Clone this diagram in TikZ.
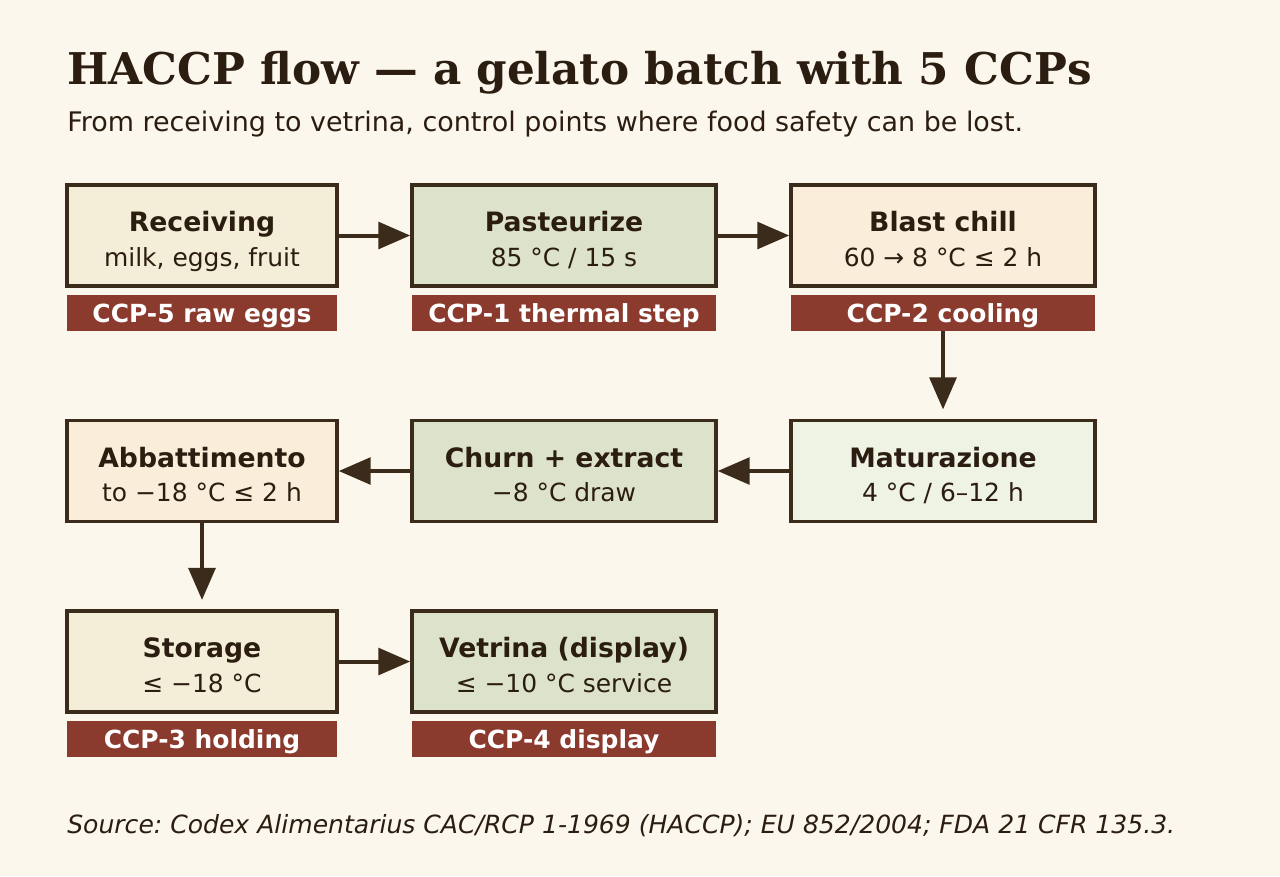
\documentclass[tikz,border=0pt]{standalone}
\usepackage{fontspec}
\setmainfont{DejaVu Sans}
\newfontfamily\titlefont{DejaVu Serif}
\usetikzlibrary{arrows.meta}
\definecolor{bg}{HTML}{FCF7EC}
\definecolor{ink}{HTML}{2B1D10}
\definecolor{edge}{HTML}{3B2B1A}
\definecolor{fillA}{HTML}{F4EDD8}
\definecolor{fillB}{HTML}{DDE3CB}
\definecolor{fillC}{HTML}{FAEEDA}
\definecolor{fillD}{HTML}{EFF3E3}
\definecolor{ccp}{HTML}{8B3A2E}
\newcommand\boxhd{\fontsize{20}{20}\bfseries\selectfont}
\frenchspacing
\begin{document}
\begin{tikzpicture}[x=0.75pt, y=-0.75pt,
        box/.style = {draw=edge, line width=2.6pt, minimum height=75.75pt, minimum width=#1*0.75pt,
            align=center, text=ink, inner sep=0pt, font=\fontsize{18.7}{26}\selectfont},
        tag/.style = {fill=ccp, minimum height=27pt, minimum width=#1*0.75pt, inner sep=0pt,
            text=white, font=\fontsize{18.7}{20}\bfseries\selectfont},
        txt/.style = {anchor=base west, inner sep=0pt, text=ink},
        arr/.style = {draw=edge, line width=3pt, -{Triangle[length=24pt, width=20pt]}},
    ]
    \fill[bg] (0,0) rectangle (1280,876);
    \node[txt, font=\titlefont\fontsize{32.8}{36}\bfseries\selectfont] (title) at (67,84) {HACCP flow — a gelato batch with 5 CCPs};
    \node[txt, font=\fontsize{20.2}{20}\selectfont] (sub) at (67,131) {From receiving to vetrina, control points where food safety can be lost.};
    \node[txt, font=\fontsize{18.8}{20}\itshape\selectfont] (src) at (67,833) {Source: Codex Alimentarius CAC/RCP 1-1969 (HACCP); EU 852/2004; FDA 21 CFR 135.3.};

    % row 1
    \node (rec) [box=270, fill=fillA] at (202,235.5) {};
    \node (pas) [box=304, fill=fillB] at (564,235.5) {};
    \node (bla) [box=304, fill=fillC] at (943,235.5) {};
    \node (t5) [tag=270] at (202,313) {};
    \node (t1) [tag=304] at (564,313) {};
    \node (t2) [tag=304] at (943,313) {};

    % row 2
    \node (abb) [box=270, fill=fillC] at (202,471) {};
    \node (chu) [box=304, fill=fillB] at (564,471) {};
    \node (mat) [box=304, fill=fillD] at (943,471) {};

    % row 3
    \node (sto) [box=270, fill=fillA] at (202,661.5) {};
    \node (vet) [box=304, fill=fillB] at (564,661.5) {};
    \node (t3) [tag=270] at (202,739) {};
    \node (t4) [tag=304] at (564,739) {};

    % texts, set a little below centre
    \foreach \n/\hd/\sb in {rec/Receiving/{milk, eggs, fruit}, pas/Pasteurize/{85 °C / 15 s},
            bla/Blast chill/{60 → 8 °C ≤ 2 h}, abb/Abbattimento/{to −18 °C ≤ 2 h},
            chu/Churn + extract/{−8 °C draw}, mat/Maturazione/{4 °C / 6–12 h},
            sto/Storage/{≤ −18 °C}, vet/Vetrina (display)/{≤ −10 °C service}}
        \node[align=center, text=ink, font=\fontsize{18.7}{26}\selectfont, yshift=-4.5pt] at (\n)
            {{\boxhd\vphantom{Ag(}\hd}\\\vphantom{Ag(}\sb};
    \foreach \n/\lb in {t5/CCP-5 raw eggs, t1/CCP-1 thermal step, t2/CCP-2 cooling,
            t3/CCP-3 holding, t4/CCP-4 display}
        \node[text=white, font=\fontsize{18.7}{20}\bfseries\selectfont, yshift=-2pt] at (\n) {\vphantom{Ag}\lb};

    \path[arr] (rec) -- (pas);
    \path[arr] (pas) -- (bla);
    \path[arr, shorten >=7pt] (t2) -- (mat);
    \path[arr] (mat) -- (chu);
    \path[arr] (chu) -- (abb);
    \path[arr, shorten >=7pt] (abb) -- (sto);
    \path[arr] (sto) -- (vet);
\end{tikzpicture}
\end{document}
